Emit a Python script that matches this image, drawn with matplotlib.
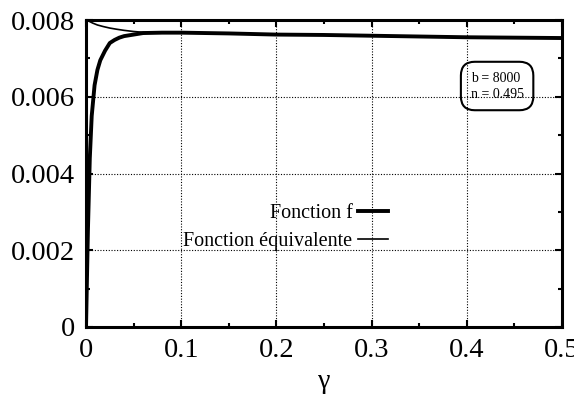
import matplotlib
matplotlib.use("Agg")
import matplotlib.pyplot as plt
from matplotlib.ticker import MultipleLocator

# Fonction f (thick curve)
gamma_f = [0.0, 0.002, 0.004, 0.006, 0.009, 0.012, 0.015, 0.02, 0.025, 0.03,
           0.035, 0.04, 0.045, 0.05, 0.06, 0.08, 0.1, 0.15, 0.2, 0.25, 0.3,
           0.35, 0.4, 0.45, 0.5]
f_vals = [0.0, 0.0025, 0.0044, 0.0055, 0.0063, 0.0067, 0.00695, 0.0072, 0.0074,
          0.00748, 0.00754, 0.00758, 0.0076, 0.00762, 0.00766, 0.00767, 0.00767,
          0.00765, 0.00762, 0.00761, 0.00759, 0.00757, 0.00755, 0.00754, 0.00753]

# Fonction équivalente (thin curve)
gamma_eq = [0.0, 0.003, 0.007, 0.012, 0.018, 0.025, 0.032, 0.04, 0.05, 0.06,
            0.08, 0.1, 0.15, 0.2, 0.25, 0.3, 0.35, 0.4, 0.45, 0.5]
eq_vals = [0.008, 0.00797, 0.00792, 0.00787, 0.00783, 0.00779, 0.00776, 0.00773,
           0.00770, 0.00768, 0.00767, 0.00767, 0.00765, 0.00762, 0.00761, 0.00759,
           0.00757, 0.00755, 0.00754, 0.00753]

x_ticks = [0, 0.1, 0.2, 0.3, 0.4, 0.5]
x_labels = ["0", "0.1", "0.2", "0.3", "0.4", "0.5"]
y_ticks = [0, 0.002, 0.004, 0.006, 0.008]
y_labels = ["0", "0.002", "0.004", "0.006", "0.008"]

plt.rcParams['font.family'] = ['Liberation Serif', 'DejaVu Serif']

fig = plt.figure(figsize=(5.74, 4.05), dpi=100)
ax = fig.add_axes([86/574, 1 - 327/405, (562-86)/574, (327-20)/405])

ax.plot(gamma_f, f_vals, color='black', lw=2.8, label='Fonction f')
ax.plot(gamma_eq, eq_vals, color='black', lw=1.2, label='Fonction équivalente')

ax.set_xlim(0, 0.5)
ax.set_ylim(0, 0.008)
ax.set_xticks(x_ticks)
ax.set_xticklabels(x_labels)
ax.set_yticks(y_ticks)
ax.set_yticklabels(y_labels)
ax.xaxis.set_minor_locator(MultipleLocator(0.05))
ax.yaxis.set_minor_locator(MultipleLocator(0.001))
ax.tick_params(which='both', direction='in', top=True, right=True, labelsize=20.5, width=1.5)
ax.tick_params(which='major', length=5, pad=8)
ax.tick_params(which='minor', length=3)
ax.grid(True, which='major', color='black', linestyle=(0, (1, 1.5)), lw=0.8)
for s in ax.spines.values():
    s.set_linewidth(2.2)

ax.set_xlabel('γ', fontsize=20, labelpad=4)

leg = ax.legend(loc='center right', bbox_to_anchor=(0.634, 0.324), frameon=False,
                fontsize=14.5, markerfirst=False, handlelength=1.5, handletextpad=0.25,
                labelspacing=0.45, borderpad=0, borderaxespad=0)
for t in leg.get_texts():
    t.set_ha('right')

ax.text(0.404, 0.00628, 'b = 8000\nn = 0.495', fontsize=10, va='center', ha='left',
        bbox=dict(boxstyle='round,pad=0.7,rounding_size=1.0', fc='none', ec='black', lw=1.5),
        linespacing=1.3)

fig.savefig('out.png', dpi=100)
